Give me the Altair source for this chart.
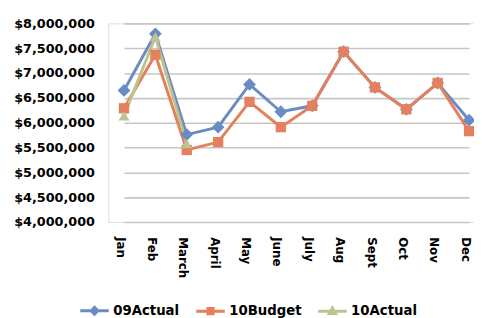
import altair as alt
import pandas as pd

months = ["Jan", "Feb", "March", "April", "May", "June", "July", "Aug", "Sept", "Oct", "Nov", "Dec"]
series_names = ["09Actual", "10Budget", "10Actual"]
actual09 = [6650000, 7790000, 5760000, 5910000, 6770000, 6220000, 6340000, 7430000, 6710000, 6270000, 6800000, 6050000]
budget10 = [6290000, 7370000, 5450000, 5610000, 6420000, 5910000, 6340000, 7430000, 6710000, 6270000, 6800000, 5830000]
actual10 = [6140000, 7730000, 5580000]
y_ticks = [4000000, 4500000, 5000000, 5500000, 6000000, 6500000, 7000000, 7500000, 8000000]
colors = ["#6b8cc3", "#e4805e", "#bcc48f"]

rows = []
for m, v in zip(months, actual09):
    rows.append({"month": m, "value": v, "series": "09Actual"})
for m, v in zip(months, budget10):
    rows.append({"month": m, "value": v, "series": "10Budget"})
for m, v in zip(months, actual10):
    rows.append({"month": m, "value": v, "series": "10Actual"})
df = pd.DataFrame(rows)

FONT = "DejaVu Sans"

x_enc = alt.X("month:N", sort=months,
              scale=alt.Scale(type="point", range=[16, 367], padding=0),
              axis=alt.Axis(title=None, labelAngle=90, labelFont=FONT, labelFontWeight="bold",
                            labelFontSize=12, labelColor="black", ticks=False, domain=False,
                            grid=False, labelPadding=15, labelOffset=-4))
y_enc = alt.Y("value:Q",
              scale=alt.Scale(domain=[4000000, 8000000], nice=False, zero=False),
              axis=alt.Axis(title=None, values=y_ticks, format="$,.0f", labelFont=FONT,
                            labelFontWeight="bold", labelFontSize=13, labelColor="black",
                            ticks=False, domain=False, labelPadding=14,
                            gridColor="#c9c5c5", gridWidth=1.6))

legend_paths = [
    "M-1,0H1M-0.24,0L0,-0.24L0.24,0L0,0.24Z",
    "M-1,0H1M-0.18,-0.18H0.18V0.18H-0.18Z",
    "M-1,0H1M0,-0.23L0.22,0.16H-0.22Z",
]

legend_def = alt.Legend(title=None, orient="none", legendX=-30, legendY=276,
                        direction="horizontal", symbolSize=841,
                        labelFont=FONT, labelFontWeight="bold", labelFontSize=13.5,
                        labelColor="black", labelOffset=3, columnPadding=10,
                        symbolStrokeWidth=3)

color_enc = alt.Color("series:N", scale=alt.Scale(domain=series_names, range=colors),
                      legend=legend_def)
stroke_enc = alt.Stroke("series:N", scale=alt.Scale(domain=series_names, range=colors),
                        legend=legend_def)
shape_enc = alt.Shape("series:N", scale=alt.Scale(domain=series_names, range=legend_paths),
                      legend=legend_def)

base = alt.Chart(df)

layers = []
for name in series_names:
    layers.append(
        base.transform_filter(alt.datum.series == name).mark_line(strokeWidth=3).encode(
            x=x_enc, y=y_enc, color=color_enc))

shapes = {"09Actual": ("diamond", 170), "10Budget": ("square", 110), "10Actual": ("triangle-up", 120)}
for name in series_names:
    shp, sz = shapes[name]
    layers.append(
        base.transform_filter(alt.datum.series == name).mark_point(
            filled=True, shape=shp, size=sz, opacity=1).encode(
            x=x_enc, y=y_enc, color=color_enc))

legend_layer = base.mark_point(filled=True, strokeWidth=3, opacity=0).encode(
    x=x_enc, y=y_enc, color=color_enc, stroke=stroke_enc, shape=shape_enc,
)

chart = alt.layer(legend_layer, *layers).properties(
    width=372, height=202,
    autosize=alt.AutoSizeParams(type="none"),
    padding={"left": 102, "top": 13, "right": 0, "bottom": 95},
).configure_view(stroke=None).configure(background="white").configure_legend(symbolOpacity=1)

chart.save("out.html", embed_options={"renderer": "svg", "actions": False})
